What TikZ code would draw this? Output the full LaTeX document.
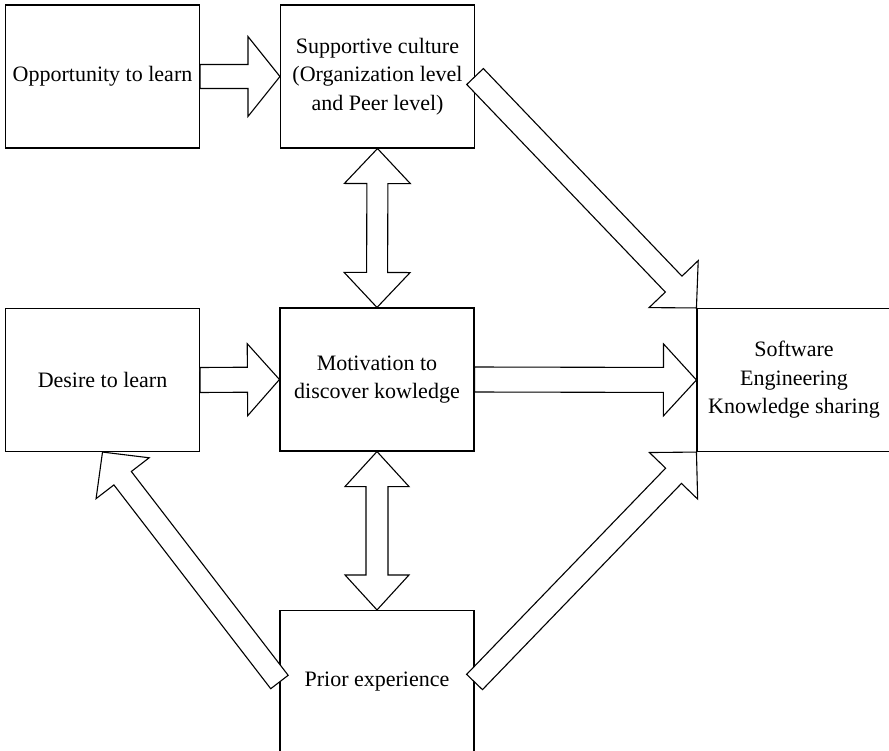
\documentclass[tikz,border=0pt]{standalone}
\usepackage{fontspec}
\setmainfont{Liberation Serif}
\usetikzlibrary{calc}

\tikzset{
  box/.style={draw, line width=1.1pt, minimum width=194pt, minimum height=143pt,
    align=center, inner sep=2pt, font=\fontsize{22}{28.5}\selectfont},
  arrowbody/.style={draw, fill=white, line width=1.1pt, line join=miter},
}

% single block arrow: from, to, half shaft width, half head width, head length
\newcommand\fatarrow[5]{%
  \coordinate (fa-base) at ($(#2)!#5!(#1)$);
  \draw[arrowbody] ($(#1)!#3!90:(#2)$) -- ($(fa-base)!#3!90:(#2)$)
    -- ($(fa-base)!#4!90:(#2)$) -- (#2) -- ($(fa-base)!#4!-90:(#2)$)
    -- ($(fa-base)!#3!-90:(#2)$) -- ($(#1)!#3!-90:(#2)$) -- cycle;
}
% double-headed block arrow: end a, end b, half shaft width, half head width, head length
\newcommand\fatdblarrow[5]{%
  \coordinate (fd-a) at ($(#1)!#5!(#2)$);
  \coordinate (fd-b) at ($(#2)!#5!(#1)$);
  \draw[arrowbody] (#1) -- ($(fd-a)!#4!90:(#2)$) -- ($(fd-a)!#3!90:(#2)$)
    -- ($(fd-b)!#3!90:(#2)$) -- ($(fd-b)!#4!90:(#2)$) -- (#2)
    -- ($(fd-b)!#4!-90:(#2)$) -- ($(fd-b)!#3!-90:(#2)$)
    -- ($(fd-a)!#3!-90:(#2)$) -- ($(fd-a)!#4!-90:(#2)$) -- cycle;
}

\begin{document}
\begin{tikzpicture}[x=1pt, y=-1pt]
  \useasboundingbox (0,0) rectangle (889,750);
  \clip (0,0) rectangle (889,750);

  % boxes
  \node[box] (opp) at (102.5,76.5) {Opportunity to learn};
  \node[box] (sup) at (377.5,76.5) {Supportive culture\\(Organization level\\and Peer level)};
  \node[box] (des) at (102.5,380) {Desire to learn};
  \node[box] (mot) at (377,379.5) {Motivation to\\discover kowledge};
  \node[box] (pri) at (377,682) {Prior experience};
  \node[box] (se)  at (794,380) {Software\\Engineering\\Knowledge sharing};

  % horizontal arrows
  \fatarrow{opp.east}{sup.west}{12pt}{40pt}{32pt}
  \fatarrow{des.east}{mot.west}{12.5pt}{36pt}{32pt}
  \fatarrow{mot.east}{se.west}{12.5pt}{36pt}{33pt}

  % vertical two-way arrows
  \fatdblarrow{sup.south}{mot.north}{10.5pt}{33pt}{35pt}
  \fatdblarrow{mot.south}{pri.north}{11pt}{32pt}{35pt}

  % diagonal arrows
  \fatarrow{sup.east}{se.north west}{11.5pt}{34pt}{33pt}
  \fatarrow{pri.east}{se.south west}{11pt}{33.5pt}{33pt}
  \fatarrow{pri.west}{des.south}{11pt}{33.5pt}{33pt}
\end{tikzpicture}
\end{document}
